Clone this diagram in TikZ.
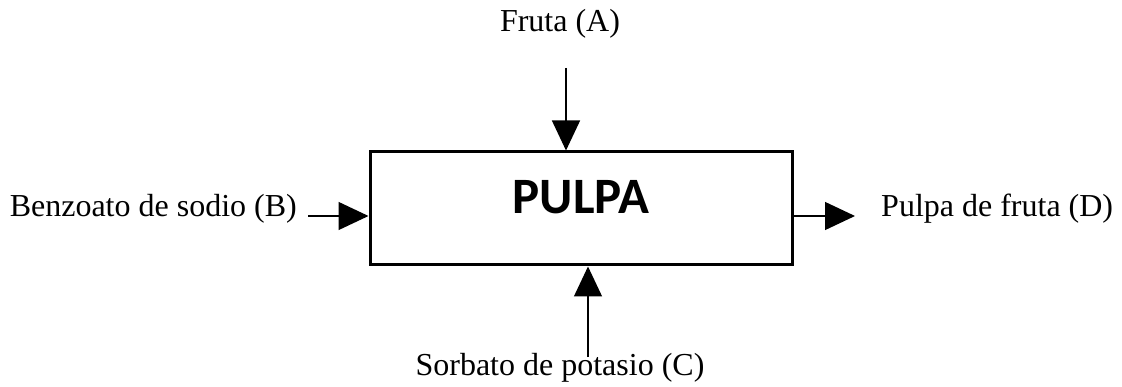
\documentclass[tikz,border=0pt]{standalone}
\usepackage{fontspec}
\setmainfont{Liberation Serif}
\newfontfamily\boxfont{Carlito}
\usepackage{tikz}
\usetikzlibrary{positioning}
\usetikzlibrary{arrows.meta}
\tikzset{flow/.style = {line width=1.3pt,-{Triangle[length=30pt,width=28pt]}}}

\begin{document}
\begin{tikzpicture}[x=1pt,y=-1pt,label node/.style={font=\fontsize{32}{38}\selectfont,inner sep=0pt,anchor=base},
            main node/.style={rectangle,draw,line width=3pt,minimum width=422pt,minimum height=113pt,font=\boxfont\bfseries\fontsize{51}{58}\selectfont,text height=33pt,text depth=22pt}]
            \useasboundingbox (0,0) rectangle (1122,387);

            \node[main node] (pulpa) at (581,208.5) {PULPA};

            \node[label node] (fruta) at (560,32) {Fruta (A)};
            \node[label node,anchor=base east] (benzoato) at (297,217) {Benzoato de sodio (B)};
            \node[label node,anchor=base west] (pulpafruta) at (881,217) {Pulpa de fruta (D)};
            \node[label node] (sorbato) at (560,375) {Sorbato de potasio (C)};

            \coordinate (a) at (566,68);
            \coordinate (b) at (308,216);
            \coordinate (c) at (588,357);
            \coordinate (d) at (855,216);

            \draw[flow] (a) -- (a |- pulpa.north);
            \draw[flow] (b) -- (b -| pulpa.west);
            \draw[flow] (c) -- (c |- pulpa.south);
            \draw[flow] (d -| pulpa.east) -- (d);

        \end{tikzpicture}
\end{document}
